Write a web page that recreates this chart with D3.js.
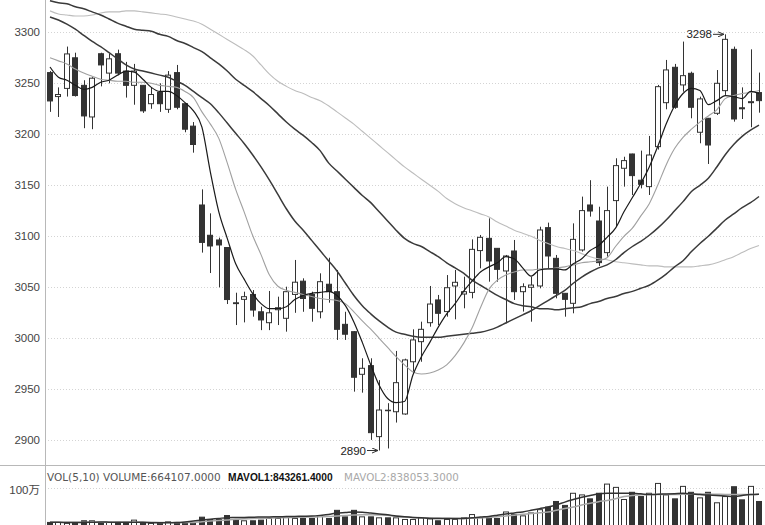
<!DOCTYPE html>
<html><head><meta charset="utf-8">
<script src="https://cdn.jsdelivr.net/npm/d3@7"></script>
<style>body{margin:0;background:#fff}svg{display:block}</style>
</head><body><svg id="c" width="765" height="525"></svg>
<script>
// ---------- data ----------
const opens = [3260.5,3237,3245,3275,3248,3217,3279,3260,3279,3262,3248,3248,3230,3241,3224.5,3260.5,3230,3208,3130.7,3101,3096.4,3089,3034.8,3038.2,3043,3026,3015.3,3028,3019.6,3043,3056,3043,3026,3053,3045.7,3013.7,3006.5,2964.7,2973.2,2903.6,2929.5,2928,2925.8,2977,2996.7,3015.3,3037.6,3026.2,3051.3,3043.4,3045,3086,3098,3088.2,3066,3085.6,3045.7,3050,3051.3,3108.5,3078.4,3044.1,3034.3,3086.6,3130.7,3115,3084,3135,3166.7,3180.7,3155,3148.7,3187.9,3231,3265.7,3248.4,3259.8,3202,3215.7,3220.6,3242.8,3283.3,3226,3231,3240.9];
const highs = [3262,3246,3286,3280,3253,3256,3280,3279,3283,3271,3269,3248,3246,3250,3262,3268,3230,3212,3146,3122.5,3098.7,3089,3044.7,3045.7,3047.3,3031,3046.4,3040.8,3050.6,3076.8,3058.8,3045.7,3063.7,3079,3067,3026,3007,2980.4,2980.4,2959,2936.4,2987.6,2980,3008.8,3016.3,3051.3,3042.5,3062,3067,3060.4,3097,3101.3,3117.6,3088.2,3081.7,3096.4,3053.9,3060.4,3109.4,3113.4,3081.7,3044.1,3112.7,3138.9,3155,3129,3148.7,3176.5,3178,3181,3184,3198.4,3248.4,3272.9,3269,3290.9,3261.4,3236.9,3216,3263,3298,3286,3246,3283.3,3260.5];
const lows = [3222,3217,3237,3237,3206,3205,3247,3250,3258,3236,3229,3221,3225,3222,3221,3224.5,3202,3182,3084,3064,3050,3033.6,3013,3015.6,3021.2,3008,3008,3013,3006.5,3025,3026,3016.3,3019.6,3034.9,2998.4,2998.4,2947.7,2946.7,2900.4,2890,2892,2917.4,2925,2967.4,2977,3011.4,3013,3021.2,3018.6,3029.4,3039.2,3068.6,3055.5,3055.5,3014.7,3037.6,3026.2,3016.3,3049,3068.6,3039.2,3021.2,3024.5,3085,3119.3,3071,3080,3109,3148.7,3140.5,3147,3140.5,3185,3224.5,3225,3241.8,3215.7,3191.2,3170.9,3218.9,3238.6,3212.4,3215,3206.9,3221.2];
const closes = [3232.7,3239,3278.8,3238,3218,3255,3268,3274,3260,3248,3262,3223,3239,3230,3258,3226.5,3205,3190,3094,3090.5,3091.5,3038,3034,3040.8,3027.7,3018,3025,3030,3045.7,3055,3039,3029.4,3055.5,3045.7,3008.8,3004,2961.8,2970.6,2907.5,2929.7,2929,2956.5,2978.8,2998.4,3008.8,3033.6,3024.5,3049.6,3054.9,3045.7,3087.2,3099,3075.8,3067.6,3080.7,3045.7,3050.6,3052.2,3106.2,3080.7,3044.1,3038.2,3097,3125.2,3124.8,3074.2,3125.2,3169.3,3174.2,3159.5,3151,3179.7,3246.7,3263.1,3226.5,3257.5,3226.5,3234.7,3189.5,3250,3293.1,3215,3225,3232,3233];
const volumes = [153,153,129,129,193,193,153,153,153,153,209,129,129,129,169,129,129,129,281,225,225,321,209,193,193,209,249,249,289,249,249,249,313,249,448,289,448,289,289,265,265,265,225,225,265,241,193,225,225,265,345,265,289,249,408,345,313,384,464,528,664,568,864,824,728,864,1088,1008,712,888,784,864,1104,824,728,1032,888,752,888,632,784,1024,704,1032,664].map(v=>v*1000);
const ma5 = [3266,3256,3253,3248,3244,3246,3251,3253,3258,3262,3261,3254,3246,3242,3242,3238,3231,3223,3207,3163,3124,3098,3073,3058,3044,3034,3029,3029,3031,3038,3042,3044,3045,3046,3042,3032,3016,2996,2974,2954,2941,2937,2938,2964,2982,2996,3011,3024,3034,3046,3056,3065,3070,3074,3080,3078,3069,3061,3067,3068,3068,3067,3073,3078,3086,3091,3099,3108,3124,3138,3152,3168,3188,3210,3228,3240,3245,3243,3229,3233,3238,3237,3235,3242,3240];
const ma10 = [3275,3272,3269,3264,3260,3257,3254,3253,3252,3252,3251,3251,3250,3248,3247,3246,3242,3236,3222,3210,3196,3172,3146,3124,3101,3082,3062,3051,3047,3045,3043,3041,3039,3038,3037,3034,3026,3017,3009,3000,2991,2982,2974,2967,2965,2966,2969,2974,2983,2995,3010,3030,3048,3057,3062,3065,3067,3067,3068,3068,3069,3070,3072,3074,3075,3076,3079,3090,3100,3108,3120,3132,3150,3170,3186,3197,3205,3212,3218,3224,3235,3238,3240,3241,3243];
const ma20 = [3315,3312,3308,3303,3297,3291,3286,3280,3274,3268,3264,3262,3260,3258,3256,3252,3248,3242,3236,3230,3221,3211,3201,3191,3180,3168,3155,3141,3127,3115,3106,3096,3086,3076,3066,3054,3042,3032,3024,3017,3011,3006,3004,3002,3001,3001,3001,3002,3003,3004,3005,3006,3008,3011,3015,3019,3023,3027,3032,3037,3042,3047,3054,3060,3065,3069,3072,3077,3084,3090,3095,3101,3108,3116,3125,3134,3144,3150,3157,3168,3180,3190,3198,3204,3209];
const ma30 = [3331,3329,3328,3325,3323,3320,3317,3313,3309,3306,3303,3302,3301,3298,3296,3292,3289,3285,3281,3275,3269,3262,3254,3248,3242,3235,3228,3220,3212,3205,3199,3192,3184,3172,3164,3156,3148,3140,3133,3124,3115,3106,3098,3093,3090,3085,3080,3074,3069,3064,3057,3052,3047,3042,3038,3034,3032,3031,3029,3029,3028,3029,3030,3031,3034,3036,3039,3041,3044,3046,3049,3052,3057,3063,3070,3076,3085,3093,3100,3108,3116,3122,3128,3133,3139];
const ma60 = [3321,3318,3317,3316,3316,3317,3319,3320,3320,3321,3321,3320,3319,3318,3317,3315,3313,3311,3308,3303,3298,3293,3288,3283,3277,3268,3259,3252,3247,3243,3240,3236,3233,3228,3222,3216,3210,3203,3196,3189,3182,3175,3168,3162,3156,3150,3144,3137,3132,3128,3125,3122,3119,3114,3110,3106,3103,3100,3096,3093,3090,3088,3086,3083,3080,3078,3077,3075,3074,3073,3072,3071,3071,3070,3070,3070,3070,3071,3072,3074,3077,3080,3084,3088,3091];
const mavol1 = [155,155,152,150,152,158,162,160,158,158,160,155,148,145,145,150,165,185,210,230,250,270,272,275,280,285,288,290,295,300,305,310,325,345,385,395,408,400,380,360,340,310,290,275,265,250,249,249,249,250,265,285,300,329,360,385,410,448,490,528,580,648,710,768,810,850,864,864,864,864,850,832,840,848,855,864,850,832,820,808,796,784,810,832,843].map(v=>v*1000);
const mavol2 = [160,160,158,157,156,156,157,158,158,157,157,156,155,154,153,152,151,150,170,185,200,215,230,240,250,255,260,265,270,275,280,285,290,295,310,320,335,340,340,335,325,300,285,275,270,265,260,255,250,249,255,265,275,289,310,330,350,368,390,408,450,490,528,580,620,660,688,730,784,810,830,832,832,832,835,840,845,848,845,840,835,832,832,832,838].map(v=>v*1000);
const priceTicks = [2900,2950,3000,3050,3100,3150,3200,3250,3300];
const volTick = 1000000, volTickLabel = "100万";
const extremes = [{index:80, value:3298, label:"3298"},{index:39, value:2890, label:"2890"}];
const volText = ["VOL(5,10) VOLUME:664107.0000","MAVOL1:843261.4000","MAVOL2:838053.3000"];

// ---------- drawing ----------
const W=765,H=525, left=45, mainBottom=465;
const svg = d3.select("#c");
svg.append("rect").attr("width",W).attr("height",H).attr("fill","#fff");
const idx = d3.range(closes.length);
const x = d3.scaleLinear().domain([0, closes.length-1]).range([50, 759]);
const y = d3.scaleLinear().domain([2900, 3300]).range([440.3, 32.3]);
const yv = d3.scaleLinear().domain([0, volTick]).range([528.7, 487.7]);
const cx = i => Math.round(x(i));

const defs = svg.append("defs");
defs.append("clipPath").attr("id","cm").append("rect").attr("x",left).attr("y",0).attr("width",W-left).attr("height",mainBottom);
defs.append("clipPath").attr("id","cv").append("rect").attr("x",left).attr("y",mainBottom+1).attr("width",W-left).attr("height",H-mainBottom-1);
const mk = defs.append("marker").attr("id","arr").attr("viewBox","0 0 6 6").attr("refX",6).attr("refY",3)
  .attr("markerWidth",6).attr("markerHeight",6).attr("orient","auto");
mk.append("path").attr("d","M0,0.5 L6,3 L0,5.5").attr("fill","none").attr("stroke","#333").attr("stroke-width",1);

// grid
const grid = svg.append("g");
grid.selectAll("line.g").data(priceTicks).join("line")
  .attr("x1",left).attr("x2",W).attr("y1",d=>Math.round(y(d))+0.5).attr("y2",d=>Math.round(y(d))+0.5)
  .attr("stroke","#d4d4d4").attr("stroke-dasharray","1,2");
grid.append("line").attr("x1",left).attr("x2",W).attr("y1",Math.round(yv(volTick))+0.5).attr("y2",Math.round(yv(volTick))+0.5)
  .attr("stroke","#d4d4d4").attr("stroke-dasharray","1,2");

// axis
const ax = svg.append("g").attr("transform",`translate(${left},0)`)
  .call(d3.axisLeft(y).tickValues(priceTicks).tickSize(0).tickPadding(5).tickFormat(d3.format("d")));
ax.select(".domain").remove();
ax.selectAll("text").attr("font-family","'Liberation Sans', Arial, sans-serif").attr("font-size",11.5).attr("fill","#444");
const axv = svg.append("g").attr("transform",`translate(${left},0)`)
  .call(d3.axisLeft(yv).tickValues([volTick]).tickSize(0).tickPadding(5).tickFormat(()=>volTickLabel));
axv.select(".domain").remove();
axv.selectAll("text").attr("font-family","'Liberation Sans','Noto Sans CJK SC', sans-serif").attr("font-size",11.5).attr("fill","#444").attr("dy","0.5em");

svg.append("line").attr("x1",left+0.5).attr("x2",left+0.5).attr("y1",0).attr("y2",H).attr("stroke","#b8b8b8");
svg.append("line").attr("x1",0).attr("x2",W).attr("y1",mainBottom+0.5).attr("y2",mainBottom+0.5).attr("stroke","#b8b8b8");

// candles
const main = svg.append("g").attr("clip-path","url(#cm)");
const dark = "#333";
main.selectAll("line.w").data(idx).join("line")
  .attr("x1",i=>cx(i)+0.5).attr("x2",i=>cx(i)+0.5).attr("y1",i=>y(highs[i])).attr("y2",i=>y(lows[i]))
  .attr("stroke",dark).attr("stroke-width",1);
main.selectAll("rect.b").data(idx).join("rect")
  .attr("x",i=>cx(i)-2.5).attr("width",5)
  .attr("y",i=>y(Math.max(opens[i],closes[i])))
  .attr("height",i=>Math.max(0.5, Math.abs(y(opens[i])-y(closes[i]))))
  .attr("fill",i=>closes[i]>=opens[i]?"#fff":dark).attr("stroke",dark).attr("stroke-width",1);

// moving averages
const line = d3.line().x((d,i)=>x(i)).y(d=>y(d)).curve(d3.curveMonotoneX);
const maDefs = [[ma60,"#bdbdbd",1.1],[ma30,"#3a3a3a",1.5],[ma20,"#3a3a3a",1.5],[ma10,"#a0a0a0",1.1],[ma5,"#1a1a1a",1.2]];
maDefs.forEach(([d,c,w])=>main.append("path").datum(d).attr("d",line).attr("fill","none").attr("stroke",c).attr("stroke-width",w));

// extreme labels
extremes.forEach(e=>{
  const ex = cx(e.index), ey = y(e.value);
  main.append("line").attr("x1",ex-12).attr("x2",ex-1).attr("y1",ey).attr("y2",ey)
    .attr("stroke","#333").attr("stroke-width",1).attr("marker-end","url(#arr)");
  main.append("text").attr("x",ex-13).attr("y",ey).attr("dy","0.35em").attr("text-anchor","end")
    .attr("font-family","'Liberation Sans', Arial, sans-serif").attr("font-size",11.5).attr("fill","#222").text(e.label);
});

// volume
const vol = svg.append("g").attr("clip-path","url(#cv)");
vol.selectAll("rect.v").data(idx).join("rect")
  .attr("x",i=>cx(i)-2.5).attr("width",5)
  .attr("y",i=>yv(volumes[i])).attr("height",i=>yv(0)-yv(volumes[i]))
  .attr("fill",i=>closes[i]>=opens[i]?"#fff":dark).attr("stroke",dark).attr("stroke-width",1);
const vline = d3.line().x((d,i)=>x(i)).y(d=>yv(d)).curve(d3.curveMonotoneX);
vol.append("path").datum(mavol2).attr("d",vline).attr("fill","none").attr("stroke","#a8a8a8").attr("stroke-width",1.5);
vol.append("path").datum(mavol1).attr("d",vline).attr("fill","none").attr("stroke","#333").attr("stroke-width",1.5);

// volume title
const tf = "'DejaVu Sans', Verdana, sans-serif";
svg.append("text").attr("x",47).attr("y",481).attr("font-family",tf).attr("font-size",10.5).attr("fill","#555").text(volText[0]);
svg.append("text").attr("x",228).attr("y",481).attr("font-family","'Liberation Sans', Arial, sans-serif").attr("font-size",10.2).attr("font-weight","bold").attr("fill","#111").text(volText[1]);
svg.append("text").attr("x",344).attr("y",481).attr("font-family",tf).attr("font-size",10.3).attr("fill","#a8a8a8").text(volText[2]);
</script></body></html>
